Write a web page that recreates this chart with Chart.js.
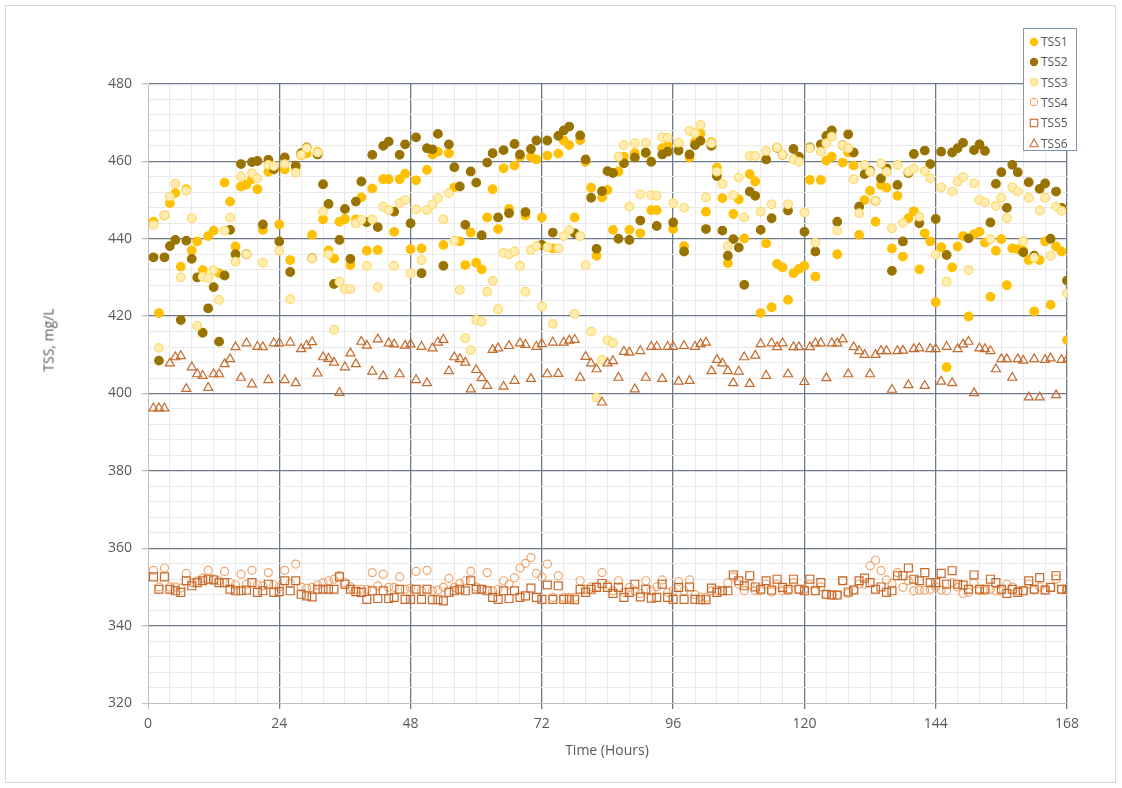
<!DOCTYPE html>
<html><head><meta charset="utf-8">
<script src="https://cdn.jsdelivr.net/npm/chart.js@4.4.1/dist/chart.umd.min.js"></script>
<style>
html,body{margin:0;padding:0;background:#fff;}
#wrap{position:relative;width:1122px;height:788px;overflow:hidden;font-family:'Open Sans',sans-serif;color:#595959;}
#frame{position:absolute;left:5px;top:5px;width:1111px;height:778px;border:1px solid #d9d9d9;box-sizing:border-box;}
canvas{position:absolute;left:0;top:0;}
#ytitle{position:absolute;left:48px;top:340px;transform:translate(-50%,-50%) rotate(-90deg);font-size:14px;font-weight:400;white-space:nowrap;}
#xtitle{position:absolute;left:607px;top:749px;transform:translate(-50%,-50%);font-size:14px;white-space:nowrap;}
#legend{position:absolute;left:1023px;top:28px;width:54px;height:123px;border:1px solid #8497B0;background:#fff;box-sizing:border-box;}
.lrow{position:absolute;left:0;height:20px;display:flex;align-items:center;font-size:12px;white-space:nowrap;}
.lrow svg{margin-left:5px;margin-right:2px;}
</style></head>
<body><div id="wrap">
<div id="frame"></div>
<canvas id="c" width="1122" height="788"></canvas>
<div id="ytitle">TSS, mg/L</div>
<div id="xtitle">Time (Hours)</div>
<div id="legend"></div>
</div>
<script>
const hours = [1,2,3,4,5,6,7,8,9,10,11,12,13,14,15,16,17,18,19,20,21,22,23,24,25,26,27,28,29,30,31,32,33,34,35,36,37,38,39,40,41,42,43,44,45,46,47,48,49,50,51,52,53,54,55,56,57,58,59,60,61,62,63,64,65,66,67,68,69,70,71,72,73,74,75,76,77,78,79,80,81,82,83,84,85,86,87,88,89,90,91,92,93,94,95,96,97,98,99,100,101,102,103,104,105,106,107,108,109,110,111,112,113,114,115,116,117,118,119,120,121,122,123,124,125,126,127,128,129,130,131,132,133,134,135,136,137,138,139,140,141,142,143,144,145,146,147,148,149,150,151,152,153,154,155,156,157,158,159,160,161,162,163,164,165,166,167,168];

const seriesNames = ['TSS1','TSS2','TSS3','TSS4','TSS5','TSS6'];

const tss1 = [444.4,420.8,446,449.2,451.8,432.8,452.8,437,439.3,431.9,440.7,442.1,431.1,454.5,449.6,438.0,453.5,454,455.4,452.8,442.3,457.3,457.9,443.7,457.9,434.5,458.5,461.6,462.1,441.0,462.5,445,437,434.9,444.4,445.1,433.2,445,450.7,436.9,453.0,437.1,455.4,455.4,441.8,455.4,456.8,437.3,455.1,437.5,457.8,461.8,462.5,438.4,462.1,453.3,439.3,433.2,441.6,433.8,432.1,445.5,452.8,442.5,458.2,447.7,458.9,461.2,446.0,461.2,460.5,445.5,461.5,437.5,462.0,465.4,464.2,445.5,465.5,459.9,453.2,435.6,450.7,452.6,442.3,457.4,461.2,442.3,462.1,441.4,462.1,447.4,447.4,463.4,464,442.5,464.7,438.1,461,465,467.2,447.0,465,458.4,450.5,433.7,446.4,450.2,440.1,456.7,454.8,420.8,438.8,422.3,433.5,432.6,424.2,431.1,432.2,433.0,455.2,430.2,455.2,460.2,461.2,436.0,459.7,462.3,458.9,441.0,450.0,452.4,444.4,453.9,453.2,437.5,451.1,435.4,445.3,447.1,432.1,441.4,439.3,423.6,437.8,406.8,432.6,438.0,440.7,419.9,441.2,441.8,439.0,425.0,436.9,439.9,428.0,437.5,437.3,436.9,434.5,421.2,434.5,439.3,422.9,438.0,436.7,413.8];

const tss2 = [435.2,408.5,435.2,438.1,439.7,419,439.5,434.8,430.0,415.7,422,427.5,413.4,430.5,442.3,436,459.3,436,459.8,460.1,443.7,460.4,458,439.3,461.0,431.4,458.9,462.1,463.6,435,461.8,454.1,449.0,428.3,439.7,447.7,434.8,449.6,454.8,444.3,461.7,443.0,464.0,465.1,447.0,461.7,464.4,444.0,466.2,431.1,463.4,463.1,467.1,433.0,464.4,458.5,453.5,443.6,457.4,454.5,440.9,459.7,462.1,445.5,462.9,446.6,464.5,461.8,446.9,463.2,465.4,438.4,465.4,441.6,466.6,468.0,469.0,441.4,466.7,460.5,450.6,437.4,452.3,457.5,457,440,459.5,439.7,461.0,444.7,462.3,459.9,443.3,461.8,462.5,444.2,462.8,436.7,461.8,464.2,465.3,442.5,464.0,456.2,442.1,435.6,439.9,437.7,428.1,452.2,451.1,442.3,460.5,445.3,463.5,461.7,447.3,463.2,461.2,441.8,463.6,436.7,464.4,466.6,468.0,444.4,464.2,467.0,462.3,448.3,456.7,457.6,449.8,455.6,458.2,431.7,453.9,439.3,457,461.9,444,462.8,459.3,445.1,462.5,435.8,462.3,463.4,464.8,440.1,462.9,464.4,462.7,444.2,454.2,457.2,448.0,459.1,457.2,436.5,454.6,435.6,452.9,454.3,440.0,452.2,448.0,429.2];

const tss3 = [443.6,411.8,446.1,450.9,454.3,430,452.4,445.3,417.5,430.2,429.8,431.9,424.2,442.1,445.5,434.1,456.1,436,456.9,455.6,433.8,459.1,458.8,436.9,459.3,424.4,457.1,461.7,463.4,434.9,462.3,447,436,416.5,428.9,427,427.0,444.0,444.9,433.0,445.0,427.5,448.3,447.4,433.0,449.2,450.0,431.1,447.6,434.5,447.4,448.9,450.5,445,451.8,439.5,426.8,414.3,411.2,419.0,418.6,426.3,429.1,421.8,436.4,436,436.7,433.0,426.3,437.1,438.1,422.5,437.8,418,437.5,440.7,442.3,420.6,440.7,433.2,416.0,398.9,408.7,413.8,413.1,461.2,464.2,448.3,464.7,451.5,464.8,451.3,451.1,466.2,466.1,449.2,464.8,448,467.9,467.3,469.4,450.7,464.7,457.3,454.2,438.1,451.3,455.8,445.5,461.4,461.4,447.0,462.7,448.9,463.6,461.7,448.9,460.5,459.9,446.8,463.4,439.0,462.5,464.7,466.4,442.1,464.2,463.4,455.4,446.6,459.1,457.3,449.8,459.5,457.3,442.7,459.1,444.1,457.3,458.1,445.7,457.5,455.6,435.9,453.3,428.9,452.2,454.8,455.9,431.9,454.3,450.0,449.4,439.9,448.5,450.6,445.3,453.3,452.2,439.4,450.6,435.1,447.3,450.6,435.6,448.3,447.2,425.9];

const tss4 = [354.3,350.0,354.9,350.0,350.0,349.7,353.5,351.1,351.6,352.3,354.3,352.0,351.6,354.0,351.1,350.5,353.3,350.7,354.3,350.5,350.3,353.7,350.5,350.0,354.3,350.9,355.9,350.0,349.7,349.9,350.5,351.1,351.6,352.0,352.9,351.1,350.0,349.4,349.4,349.4,353.7,350.3,353.3,349.9,349.9,352.6,349.4,349.7,354.0,349.0,354.3,349.0,349.2,349.9,352.2,349.9,350.9,351.6,354.0,350.0,349.4,353.7,349.0,349.4,351.6,350.7,352.4,354.9,356.1,357.6,353.5,352.6,355.9,347.3,352.9,347.3,347.3,347.3,351.6,349.4,350.0,350.0,353.7,350.5,349.0,351.6,348.6,349.9,349.0,348.3,351.6,349.0,350.0,351.8,348.6,349.0,351.4,349.0,351.8,348.0,347.4,347.3,349.0,349.2,349.0,351.1,352.6,350.7,349.0,350.7,349.0,349.0,350.7,348.7,350.7,349.0,349.0,351.1,349.4,349.4,350.7,349.0,350.0,348.1,347.9,347.9,351.6,348.3,349.2,350.7,350.7,355.5,356.9,354.2,351.8,350.9,353.7,349.9,351.6,349.0,349.2,349.2,349.4,350.0,349.2,349.0,351.1,350.0,348.3,348.6,350.9,349.0,349.0,349.4,349.0,349.0,350.7,350.0,349.0,349.0,350.7,349.2,350.0,349.2,349.9,352.0,349.4,349.4];

const tss5 = [352.6,349.4,352.6,349.4,349.0,348.6,351.6,350.3,351.1,351.6,352.0,351.8,351.1,351.1,349.4,349.0,349.0,349.2,351.1,348.6,349.0,350.7,348.6,348.8,351.6,349.0,351.6,348.1,347.7,347.4,349.4,349.4,349.4,349.4,352.6,350.7,349.4,348.8,348.6,346.8,349.0,347.0,349.0,347.0,347.3,349.4,346.8,346.8,349.4,346.8,349.4,346.7,346.7,346.4,348.6,349.0,349.4,349.0,351.6,349.4,349.4,349.0,347.3,346.8,349.0,347.0,349.0,347.3,347.7,349.7,347.3,346.8,350.5,346.8,350.3,346.8,346.8,346.7,349.4,348.6,349.4,349.9,350.9,349.9,348.3,349.9,347.3,348.6,350.7,347.4,349.4,347.1,347.3,350.7,347.3,346.8,349.9,346.8,350.0,346.8,346.7,346.7,349.7,348.6,349.0,349.0,353.1,351.6,350.3,352.9,350.0,349.4,351.6,349.2,352.0,349.9,349.4,352.0,349.4,349.0,352.0,349.0,351.1,348.1,347.9,347.9,351.6,348.7,349.2,351.6,352.3,351.1,349.4,350.0,348.6,349.0,352.9,352.9,354.9,352.0,351.6,353.7,351.1,351.1,353.5,350.7,354.2,350.7,350.5,349.4,353.1,349.4,349.4,352.0,351.1,349.4,348.3,349.4,348.6,349.0,351.6,349.4,352.4,349.2,349.9,352.9,349.4,349.4];

const tss6 = [396.2,396.2,396.2,407.8,409.4,409.7,401.2,406.8,405.0,404.6,401.5,405.0,405.0,407.6,408.9,412.0,404.1,413.0,402.4,412.1,412.0,403.5,413.0,413.0,403.5,413.2,402.7,411.5,412.4,413.3,405.2,409.4,409.0,408.0,400.2,406.8,410.4,407.6,413.4,412.4,405.7,414.0,404.5,413.0,412.7,405.0,412.4,412.7,403.5,412.1,402.7,411.7,413.2,413.9,405.8,409.4,408.9,408.0,401.1,406.1,404.0,402.0,411.3,411.7,401.8,412.3,403.3,413.0,412.6,403.8,412.1,412.8,405.0,413.2,405.1,413.2,413.7,413.9,404.1,409.5,407.8,406.3,397.7,407.8,408.4,404.1,410.8,410.6,401.1,411.0,404.1,412.1,412.1,403.8,412.1,412.1,403.1,412.3,403.3,412.1,412.8,413.2,405.8,408.7,407.8,405.8,402.7,405.7,409.4,402.5,409.8,412.8,404.6,413,412,413,405,412,412,403,412,413,413,404,413,413,414,405,412,411,410,405,410,411,411,401,411,411.1,402.2,411.5,411.7,402.0,411.5,411.5,403.1,412.1,402.7,411.5,412.7,413.4,400.1,411.7,411.5,411.0,406.3,408.9,408.9,404.1,408.9,408.5,399.0,408.9,399.0,408.7,409.1,399.6,408.7,408.7];

const yMajorTicks = [320,340,360,380,400,420,440,460,480];
const xMajorTicks = [0,24,48,72,96,120,144,168];

const seriesValues = [tss1,tss2,tss3,tss4,tss5,tss6];
const styles = [
  {pointStyle:'circle',  radius:4.3, bg:'#FFC000', border:'#FFC000'},
  {pointStyle:'circle',  radius:4.3, bg:'#997300', border:'#997300'},
  {pointStyle:'circle',  radius:4.3, bg:'#FFEDB3', border:'#FFD966'},
  {pointStyle:'circle',  radius:4.0, bg:'rgba(255,255,255,0)', border:'#F0A66E'},
  {pointStyle:'rect',    radius:5.6, bg:'rgba(255,255,255,0)', border:'#C8692A'},
  {pointStyle:'triangle',radius:5.2, bg:'rgba(255,255,255,0)', border:'#C46A2A'}
];

const datasets = seriesNames.map((name,i)=>({
  label:name,
  data: hours.map((h,j)=>({x:h,y:seriesValues[i][j]})),
  pointStyle:styles[i].pointStyle,
  pointRadius:styles[i].radius,
  pointHoverRadius:styles[i].radius,
  pointBackgroundColor:styles[i].bg,
  pointBorderColor:styles[i].border,
  pointBorderWidth:1.2,
  showLine:false,
  order: seriesNames.length - i
}));

const majorGrid = '#6E7A88';
const minorGrid = '#EAEAEA';
const axisGray = '#BFBFBF';
const tickFont = {family:"'Open Sans', sans-serif", size:14};

new Chart(document.getElementById('c'), {
  type:'scatter',
  data:{datasets},
  options:{
    responsive:false,
    devicePixelRatio:1,
    animation:false,
    events:[],
    layout:{padding:{left:88,top:84,right:55,bottom:45}},
    plugins:{legend:{display:false},tooltip:{enabled:false}},
    scales:{
      x:{
        type:'linear', min:0, max:168,
        afterFit:(s)=>{s.height=40;},
        afterBuildTicks:(s)=>{ s.ticks = []; for(let v=0; v<=168; v+=4) s.ticks.push({value:v}); },
        ticks:{ autoSkip:false, maxRotation:0, padding:7, color:'#595959', font:tickFont,
          callback:(v)=> xMajorTicks.includes(v) ? String(v) : '' },
        grid:{
          color:(c)=> c.tick && xMajorTicks.includes(c.tick.value) && c.tick.value!==0 ? majorGrid : (c.tick && c.tick.value===0 ? axisGray : minorGrid),
          lineWidth:(c)=> c.tick && xMajorTicks.includes(c.tick.value) && c.tick.value!==0 ? 1.3 : 1,
          drawTicks:true, tickLength:6,
          tickColor:(c)=> c.tick && xMajorTicks.includes(c.tick.value) ? (c.tick.value===0 ? axisGray : majorGrid) : 'rgba(0,0,0,0)'
        },
        border:{display:true,color:axisGray,width:1}
      },
      y:{
        type:'linear', min:320, max:480,
        afterFit:(s)=>{s.width=60;},
        afterBuildTicks:(s)=>{ s.ticks = []; for(let v=320; v<=480; v+=4) s.ticks.push({value:v}); },
        ticks:{ autoSkip:false, padding:10, color:'#595959', font:tickFont,
          callback:(v)=> yMajorTicks.includes(v) ? String(v) : '' },
        grid:{
          color:(c)=> c.tick && yMajorTicks.includes(c.tick.value) && c.tick.value!==320 ? majorGrid : (c.tick && c.tick.value===320 ? axisGray : minorGrid),
          lineWidth:(c)=> c.tick && yMajorTicks.includes(c.tick.value) && c.tick.value!==320 ? 1.3 : 1,
          drawTicks:true, tickLength:6,
          tickColor:(c)=> c.tick && yMajorTicks.includes(c.tick.value) ? axisGray : 'rgba(0,0,0,0)'
        },
        border:{display:true,color:axisGray,width:1}
      }
    }
  }
});

// HTML legend built from series names and styles
const legend = document.getElementById('legend');
seriesNames.forEach((name,i)=>{
  const st = styles[i];
  const row = document.createElement('div');
  row.className='lrow';
  row.style.top = (2.5 + i*20.3) + 'px';
  let shape;
  if(st.pointStyle==='circle') shape = `<circle cx="5" cy="5" r="3.6" fill="${st.bg}" stroke="${st.border}" stroke-width="1.1"/>`;
  else if(st.pointStyle==='rect') shape = `<rect x="1.3" y="1.3" width="7.4" height="7.4" fill="none" stroke="${st.border}" stroke-width="1.1"/>`;
  else shape = `<polygon points="5,1 9.2,8.8 0.8,8.8" fill="none" stroke="${st.border}" stroke-width="1.1"/>`;
  row.innerHTML = `<svg width="10" height="10" viewBox="0 0 10 10">${shape}</svg><span>${name}</span>`;
  legend.appendChild(row);
});
</script>
</body></html>
